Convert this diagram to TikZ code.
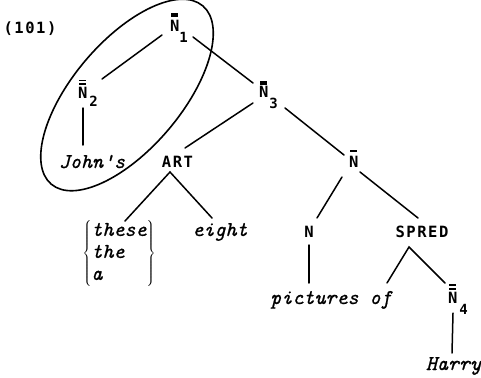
\documentclass[tikz,border=0pt]{standalone}
\usepackage{fontspec}
\newfontfamily\labfam{DejaVu Sans Mono}[LetterSpace=10]
\newfontfamily\itfam{lmmono10-italic.otf}[FakeBold=0.8]
\newcommand\labfont{\labfam\bfseries\fontsize{15.5}{18}\selectfont}
\newcommand\subfont{\labfam\bfseries\fontsize{14}{16}\selectfont}
\newcommand\itfont{\itfam\fontsize{21}{22}\selectfont}
% bars over a category letter: #1 number of bars, #2 gap between bars,
% #3 gap above the letter, #4 the letter
\newcommand\barstack[2]{\vbox{\hrule width 7pt height 1.6pt
  \ifnum#1>1 \kern#2\hrule width 7pt height 1.6pt\fi}}
\newcommand\overbars[4]{\ooalign{\hfil\raisebox{\dimexpr\fontcharht\font`#4+#3\relax}{\barstack{#1}{#2}}\hfil\cr#4\cr}}
\tikzset{
  cat/.style={font=\labfont, inner sep=0pt, outer sep=0pt},
  word/.style={font=\itfont, inner sep=0pt, outer sep=0pt},
  branch/.style={line width=1.5pt, line cap=round, line join=miter},
  ring/.style={line width=1.6pt},
}
\begin{document}
\begin{tikzpicture}[x=1pt, y=-1pt]
\useasboundingbox (0,0) rectangle (481,377);

% example number
\node[cat, anchor=base] (ex) at (30,34) {(101)};

% category nodes
\node[cat, anchor=base west] (n1) at (170,32)
  {\overbars{2}{0.8pt}{3.7pt}{N}\raisebox{-11pt}{\subfont 1}};
\node[cat, anchor=base west] (n2) at (78,99)
  {\overbars{2}{2pt}{2.7pt}{N}\kern2pt\raisebox{-8pt}{\subfont 2}};
\node[cat, anchor=base west] (n3) at (259,98)
  {\overbars{2}{0.8pt}{1.7pt}{N}\kern1pt\raisebox{-11pt}{\subfont 3}};
\node[cat, anchor=base west] (nb) at (349,167)
  {\overbars{1}{0pt}{3.7pt}{N}};
\node[cat, anchor=base west] (n4) at (448,303)
  {\overbars{2}{2.4pt}{1.7pt}{N}\kern2pt\raisebox{-11pt}{\subfont 4}};
\node[cat, anchor=base] (art) at (177.5,167) {ART};
\node[cat, anchor=base] (nn) at (309,237) {N};
\node[cat, anchor=base] (spred) at (422,237) {SPRED};

% words
\node[word, anchor=base] (john) at (92,168) {John's};
\node[word] (det) at (119,253.5)
  {$\left\{\begin{tabular}{@{}l@{}}these\\the\\a\end{tabular}\right\}$};
\node[word, anchor=base] (eight) at (220,236) {eight};
\node[word, anchor=base] (pic) at (331,304) {pictures of};
\node[word, anchor=base] (harry) at (453.5,370) {Harry};

% branches
\draw[branch] ([shift={(-8,3)}]n1.base west) -- ([shift={(24,-20)}]n2.base west);
\draw[branch] ([shift={(23,5)}]n1.base west) -- ([shift={(-6,-15)}]n3.base west);
\draw[branch] ([shift={(5,9)}]n2.base west) -- ([shift={(-9,-23)}]john.base);
\draw[branch] ([shift={(-6,5)}]n3.base west) -- ([shift={(7.5,-19)}]art.base);
\draw[branch] ([shift={(26,10)}]n3.base west) -- ([shift={(-5,-12)}]nb.base west);
\draw[branch] ([shift={(6,-32.5)}]det.center) -- ([shift={(-7.5,5)}]art.base)
  -- ([shift={(-8,-18)}]eight.base);
\draw[branch] ([shift={(-7,10)}]nb.base west) -- ([shift={(8,-19)}]nn.base);
\draw[branch] ([shift={(11,5)}]nb.base west) -- ([shift={(-4,-19)}]spred.base);
\draw[branch] ([shift={(0,8)}]nn.base) -- ([shift={(-22,-21)}]pic.base);
\draw[branch] ([shift={(56,-21)}]pic.base) -- ([shift={(-13,10)}]spred.base)
  -- ([shift={(-3,-20)}]n4.base west);
\draw[branch] ([shift={(5,10)}]n4.base west) -- ([shift={(-1.5,-17)}]harry.base);

% ring round the possessor subtree
\draw[ring, rotate around={49.6:(127,95)}] (127,95) ellipse [x radius=117pt, y radius=54pt];
\end{tikzpicture}
\end{document}
